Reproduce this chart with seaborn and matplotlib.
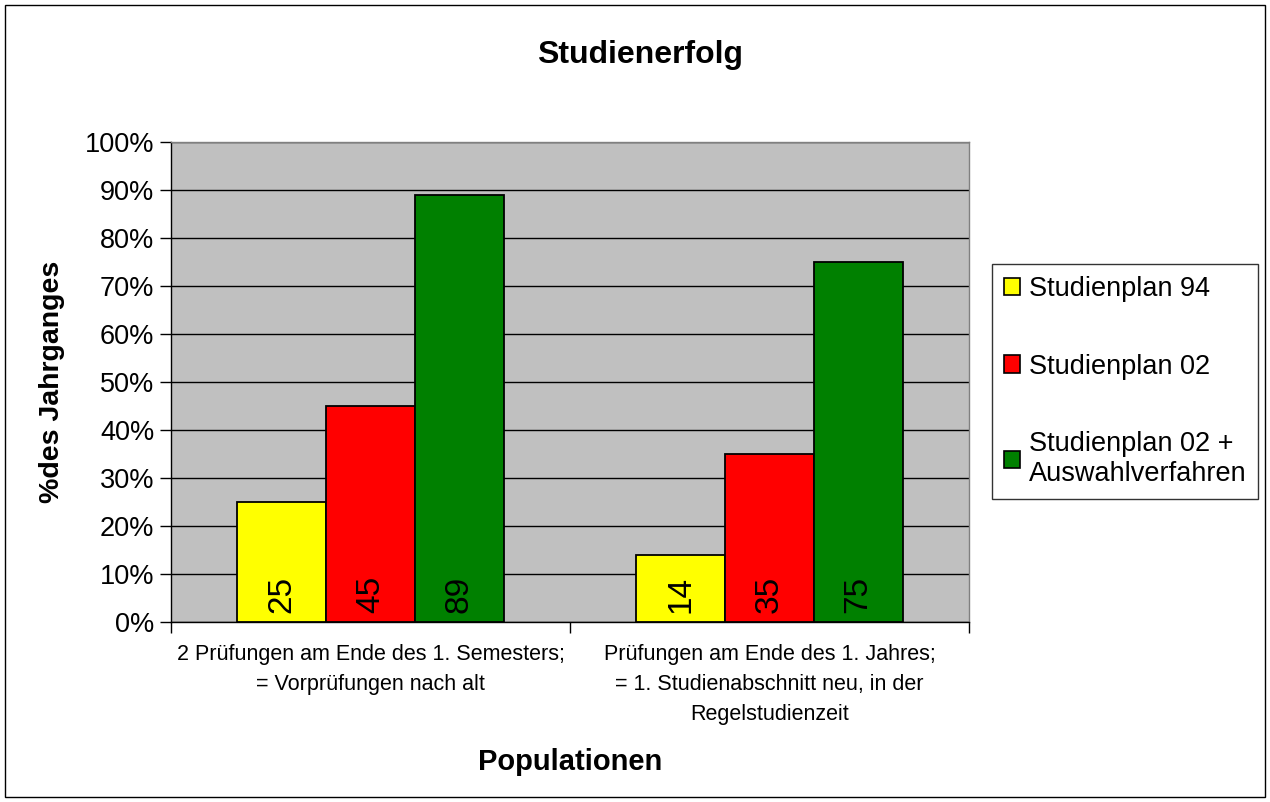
import matplotlib
matplotlib.use("Agg")
import matplotlib.pyplot as plt
import seaborn as sns
import pandas as pd
from matplotlib.patches import Patch, Rectangle

categories = ["2 Prüfungen am Ende des 1. Semesters;\n= Vorprüfungen nach alt",
              "Prüfungen am Ende des 1. Jahres;\n= 1. Studienabschnitt neu, in der\nRegelstudienzeit"]
series = ["Studienplan 94", "Studienplan 02", "Studienplan 02 +\nAuswahlverfahren"]
plan94 = [25, 14]
plan02 = [45, 35]
plan02_auswahl = [89, 75]
colors = ["#FFFF00", "#FF0000", "#008000"]
yticks = [0, 10, 20, 30, 40, 50, 60, 70, 80, 90, 100]

sns.set_style("white")
plt.rcParams["font.family"] = ["Liberation Sans", "DejaVu Sans"]
plt.rcParams["text.color"] = "black"
plt.rcParams["axes.labelcolor"] = "black"
plt.rcParams["xtick.color"] = "black"
plt.rcParams["ytick.color"] = "black"

rows = []
for s, vals in zip(series, [plan94, plan02, plan02_auswahl]):
    for c, v in zip(categories, vals):
        rows.append({"cat": c, "series": s, "value": v})
df = pd.DataFrame(rows)

fig = plt.figure(figsize=(12.7, 8.02), dpi=100)
ax = fig.add_axes([171/1270, 1-622/802, (969-171)/1270, (622-142)/802])
ax.set_facecolor("#C0C0C0")

sns.barplot(data=df, x="cat", y="value", hue="series", hue_order=series,
            palette=colors, saturation=1, width=0.667, gap=0, edgecolor="black",
            linewidth=1.3, ax=ax, legend=False, zorder=3)

ax.set_ylim(0, 100)
ax.set_xlim(-0.5, 1.5)
ax.set_yticks(yticks)
ax.set_yticklabels([f"{t}%" for t in yticks], fontsize=19.5)
ax.yaxis.grid(True, color="black", linewidth=1, zorder=1)
ax.set_axisbelow(True)
ax.tick_params(axis="y", length=8, width=1, color="black", direction="out", pad=4, left=True)

ax.set_xticks([0, 1])
ax.set_xticklabels(categories, fontsize=15.5, linespacing=1.55)
ax.tick_params(axis="x", length=0, pad=16)
ax.set_xticks([-0.5, 0.5, 1.5], minor=True)
ax.tick_params(axis="x", which="minor", length=8, width=1, color="black", direction="out", bottom=True)

for side in ["top", "right"]:
    ax.spines[side].set_color("#808080")
    ax.spines[side].set_linewidth(1)
for side in ["left", "bottom"]:
    ax.spines[side].set_color("black")
    ax.spines[side].set_linewidth(1)

for cont in ax.containers:
    for p, v in zip(cont.patches, cont.datavalues):
        ax.text(p.get_x() + p.get_width()/2, 1.8, f"{int(v)}", rotation=90,
                ha="center", va="bottom", fontsize=24, color="black", zorder=5)

ax.set_xlabel("Populationen", fontsize=21, fontweight="bold", labelpad=17)
ax.set_ylabel("%des Jahrganges", fontsize=20.5, fontweight="bold", labelpad=14)

fig.text(0.504, 1-55/802, "Studienerfolg", ha="center", va="center",
         fontsize=23, fontweight="bold")

handles = [Patch(facecolor=c, edgecolor="black", linewidth=1.2) for c in colors]
leg = fig.legend(handles, series, loc="upper left",
                 bbox_to_anchor=(992/1270, 1-264/802), fontsize=19.5,
                 frameon=True, fancybox=False, edgecolor="black",
                 handlelength=0.6, handleheight=0.6, handletextpad=0.3,
                 labelspacing=1.9, borderpad=0.45, borderaxespad=0)
leg.get_frame().set_linewidth(1)

fig.patches.append(Rectangle((5/1270, 5/802), 1260/1270, 792/802, transform=fig.transFigure,
                             fill=False, edgecolor="black", linewidth=1))

fig.savefig("out.png", dpi=100)
